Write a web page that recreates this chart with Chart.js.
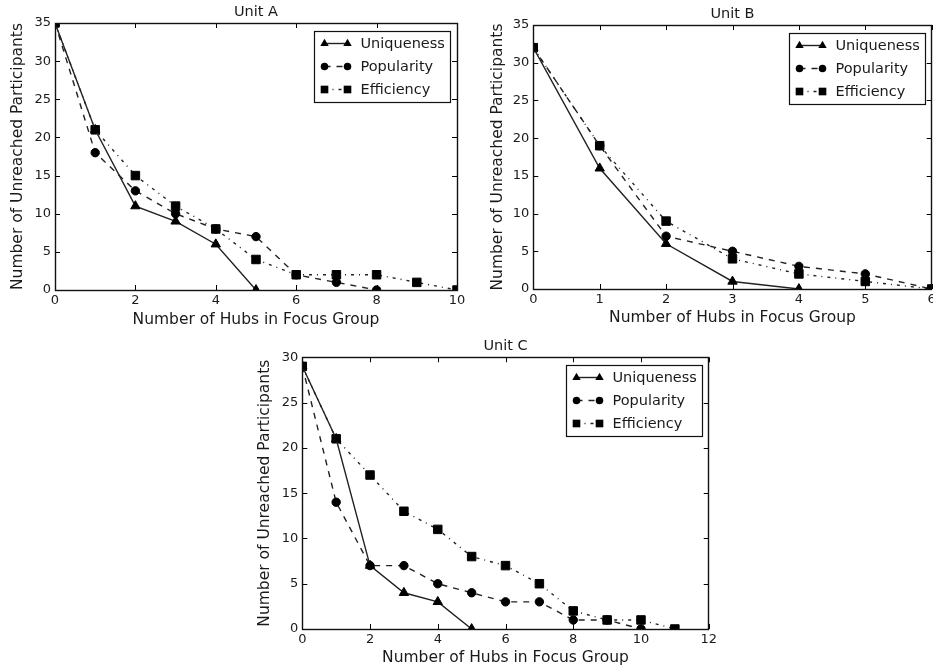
<!DOCTYPE html>
<html>
<head>
<meta charset="utf-8">
<script src="https://cdn.jsdelivr.net/npm/chart.js@4.4.0/dist/chart.umd.min.js"></script>
<style>
html, body { margin: 0; padding: 0; background: #fff; overflow: hidden; width: 933px; height: 669px; }
canvas { position: absolute; }
</style>
</head>
<body>
<canvas id="chartA" width="470" height="330" style="left:0px;top:0px"></canvas>
<canvas id="chartB" width="480" height="330" style="left:470px;top:0px"></canvas>
<canvas id="chartC" width="470" height="339" style="left:250px;top:330px"></canvas>
<script>
// data
var seriesNames = ['Uniqueness', 'Popularity', 'Efficiency'];
var xTitle = 'Number of Hubs in Focus Group';
var yTitle = 'Number of Unreached Participants';

var unitAHubs = [0, 1, 2, 3, 4, 5, 6, 7, 8, 9, 10];
var unitAUniqueness = [35, 21, 11, 9, 6, 0];
var unitAPopularity = [35, 18, 13, 10, 8, 7, 2, 1, 0];
var unitAEfficiency = [35, 21, 15, 11, 8, 4, 2, 2, 2, 1, 0];
var unitAXTicks = [0, 2, 4, 6, 8, 10];
var unitAYTicks = [0, 5, 10, 15, 20, 25, 30, 35];

var unitBHubs = [0, 1, 2, 3, 4, 5, 6];
var unitBUniqueness = [32, 16, 6, 1, 0];
var unitBPopularity = [32, 19, 7, 5, 3, 2, 0];
var unitBEfficiency = [32, 19, 9, 4, 2, 1, 0];
var unitBXTicks = [0, 1, 2, 3, 4, 5, 6];
var unitBYTicks = [0, 5, 10, 15, 20, 25, 30, 35];

var unitCHubs = [0, 1, 2, 3, 4, 5, 6, 7, 8, 9, 10, 11];
var unitCUniqueness = [29, 21, 7, 4, 3, 0];
var unitCPopularity = [29, 14, 7, 7, 5, 4, 3, 3, 1, 1, 0];
var unitCEfficiency = [29, 21, 17, 13, 11, 8, 7, 5, 2, 1, 1, 0];
var unitCXTicks = [0, 2, 4, 6, 8, 10, 12];
var unitCYTicks = [0, 5, 10, 15, 20, 25, 30];

var textColor = '#1a1a1a';
var lineColor = '#222';
Chart.defaults.font.family = 'DejaVu Sans';

var markerStyles = [
  { shape: 'triangle', radius: 5.4, dash: [] },
  { shape: 'circle', radius: 4.2, dash: [6, 6] },
  { shape: 'rect', radius: 6, dash: [3, 5, 1, 5] }
];

function toPoints(hubs, values) {
  var pts = [];
  for (var i = 0; i < values.length; i++) {
    pts.push({ x: hubs[i], y: values[i] });
  }
  return pts;
}

function drawMarker(ctx, shape, x, y, r) {
  ctx.beginPath();
  if (shape == 'triangle') {
    ctx.moveTo(x, y - r);
    ctx.lineTo(x + r * 0.866, y + r * 0.5);
    ctx.lineTo(x - r * 0.866, y + r * 0.5);
    ctx.closePath();
  } else if (shape == 'circle') {
    ctx.arc(x, y, r, 0, Math.PI * 2);
  } else {
    var s = r * 0.7071;
    ctx.rect(x - s, y - s, s * 2, s * 2);
  }
  ctx.fill();
}

// frame, inward ticks, title and legend like the matplotlib original
var framePlugin = {
  id: 'frame',
  afterDatasetsDraw: function(chart) {
    var ctx = chart.ctx;
    var a = chart.chartArea;
    var xs = chart.scales.x;
    var ys = chart.scales.y;
    var o = chart.options.plugins.frame;
    ctx.save();
    ctx.strokeStyle = '#000';
    ctx.lineWidth = 1;
    ctx.setLineDash([]);
    ctx.beginPath();
    xs.ticks.forEach(function(t) {
      var px = Math.round(xs.getPixelForValue(t.value)) + 0.5;
      ctx.moveTo(px, a.bottom); ctx.lineTo(px, a.bottom - 5);
      ctx.moveTo(px, a.top); ctx.lineTo(px, a.top + 5);
    });
    ys.ticks.forEach(function(t) {
      var py = Math.round(ys.getPixelForValue(t.value)) + 0.5;
      ctx.moveTo(a.left, py); ctx.lineTo(a.left + 5, py);
      ctx.moveTo(a.right, py); ctx.lineTo(a.right - 5, py);
    });
    ctx.stroke();
    ctx.lineWidth = 1.4;
    ctx.strokeStyle = '#111';
    ctx.strokeRect(Math.round(a.left) + 0.5, Math.round(a.top) + 0.5, Math.round(a.width), Math.round(a.height));

    ctx.fillStyle = textColor;
    ctx.font = '14.5px "DejaVu Sans"';
    ctx.textAlign = 'center';
    ctx.textBaseline = 'middle';
    ctx.fillText(o.title, (a.left + a.right) / 2, a.top - o.titleGap);

    var bw = 136, bh = 71;
    var bx = Math.round(a.right - 7 - bw) + 0.5;
    var by = Math.round(a.top + 8) + 0.5;
    ctx.fillStyle = '#fff';
    ctx.fillRect(bx, by, bw, bh);
    ctx.lineWidth = 1.2;
    ctx.strokeStyle = '#111';
    ctx.strokeRect(bx, by, bw, bh);
    ctx.font = '14.5px "DejaVu Sans"';
    ctx.textAlign = 'left';
    for (var i = 0; i < seriesNames.length; i++) {
      var ry = by + 12 + i * 23;
      var m = markerStyles[i];
      ctx.strokeStyle = lineColor;
      ctx.lineWidth = 1.4;
      ctx.setLineDash(m.dash);
      ctx.beginPath();
      ctx.moveTo(bx + 10, ry); ctx.lineTo(bx + 33, ry);
      ctx.stroke();
      ctx.setLineDash([]);
      ctx.fillStyle = '#000';
      drawMarker(ctx, m.shape, bx + 10, ry, m.radius * 0.9);
      drawMarker(ctx, m.shape, bx + 33, ry, m.radius * 0.9);
      ctx.fillStyle = textColor;
      ctx.fillText(seriesNames[i], bx + 46, ry + 1);
    }
    ctx.restore();
  }
};

function makeChart(id, title, hubs, series, xTicks, yTicks, L) {
  var datasets = [];
  for (var i = 0; i < series.length; i++) {
    var m = markerStyles[i];
    datasets.push({
      label: seriesNames[i],
      data: toPoints(hubs, series[i]),
      borderColor: lineColor,
      borderWidth: 1.4,
      borderDash: m.dash,
      pointStyle: m.shape,
      pointRadius: m.radius,
      pointBackgroundColor: '#000',
      pointBorderColor: '#000',
      pointBorderWidth: 1,
      fill: false,
      tension: 0,
      clip: 0
    });
  }
  return new Chart(document.getElementById(id), {
    type: 'line',
    data: { datasets: datasets },
    options: {
      responsive: false,
      animation: false,
      layout: { padding: { top: L.padTop, right: L.padRight, left: 0, bottom: 0 } },
      plugins: {
        legend: { display: false },
        tooltip: { enabled: false },
        frame: { title: title, titleGap: L.titleGap }
      },
      scales: {
        x: {
          type: 'linear',
          min: xTicks[0],
          max: xTicks[xTicks.length - 1],
          grid: { display: false, drawTicks: false },
          border: { display: false },
          afterBuildTicks: function(s) { s.ticks = xTicks.map(function(v) { return { value: v }; }); },
          afterFit: function(s) { s.height = L.xHeight; },
          ticks: { color: textColor, font: { size: 13 }, padding: 3, maxRotation: 0, autoSkip: false },
          title: { display: true, text: xTitle, color: textColor, font: { size: 15.5 }, padding: { top: 0, bottom: L.xTitlePad } }
        },
        y: {
          type: 'linear',
          min: yTicks[0],
          max: yTicks[yTicks.length - 1],
          grid: { display: false, drawTicks: false },
          border: { display: false },
          afterBuildTicks: function(s) { s.ticks = yTicks.map(function(v) { return { value: v }; }); },
          afterFit: function(s) { s.width = L.yWidth; },
          ticks: { color: textColor, font: { size: 13 }, padding: 4, autoSkip: false },
          title: { display: true, text: yTitle, color: textColor, font: { size: 15.5 }, padding: { top: L.yTitlePad, bottom: 0 } }
        }
      }
    },
    plugins: [framePlugin]
  });
}

makeChart('chartA', 'Unit A', unitAHubs, [unitAUniqueness, unitAPopularity, unitAEfficiency], unitAXTicks, unitAYTicks,
  { padTop: 23, padRight: 13, xHeight: 40, yWidth: 55, xTitlePad: 0.7, yTitlePad: 8.7, titleGap: 11 });
makeChart('chartB', 'Unit B', unitBHubs, [unitBUniqueness, unitBPopularity, unitBEfficiency], unitBXTicks, unitBYTicks,
  { padTop: 25, padRight: 18.3, xHeight: 41, yWidth: 63.3, xTitlePad: 2.4, yTitlePad: 18.4, titleGap: 11 });
makeChart('chartC', 'Unit C', unitCHubs, [unitCUniqueness, unitCPopularity, unitCEfficiency], unitCXTicks, unitCYTicks,
  { padTop: 27.3, padRight: 10, xHeight: 40, yWidth: 52.3, xTitlePad: 1.4, yTitlePad: 5.7, titleGap: 11.5 });
</script>
</body>
</html>
